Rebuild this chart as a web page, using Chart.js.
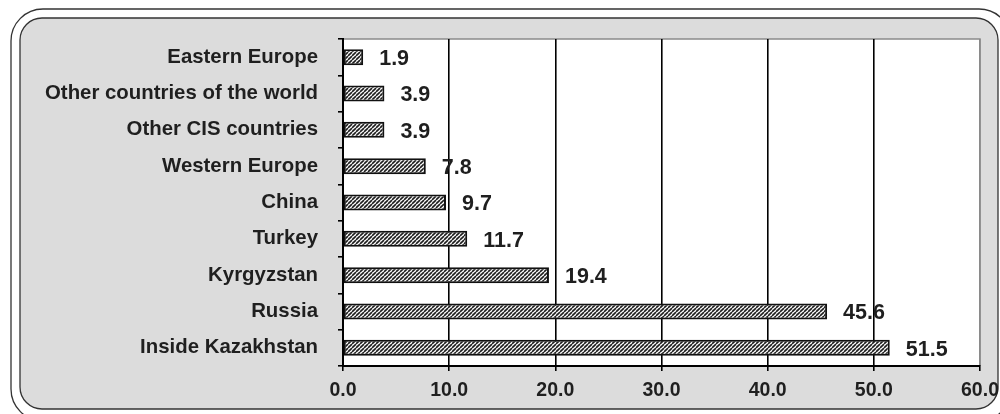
<!DOCTYPE html>
<html>
<head>
<meta charset="utf-8">
<script src="https://cdn.jsdelivr.net/npm/chart.js@4"></script>
<style>
  html, body { margin: 0; padding: 0; background: #ffffff; }
  canvas { display: block; }
</style>
</head>
<body>
<canvas id="chart" width="1000" height="414"></canvas>
<script>
// Destinations, top to bottom
const categories = [
  'Eastern Europe',
  'Other countries of the world',
  'Other CIS countries',
  'Western Europe',
  'China',
  'Turkey',
  'Kyrgyzstan',
  'Russia',
  'Inside Kazakhstan'
];
// Share of respondents, %
const shares = [1.9, 3.9, 3.9, 7.8, 9.7, 11.7, 19.4, 45.6, 51.5];
// Value axis range
const axisMin = 0;
const axisMax = 60;
const axisStep = 10;

const FONT = '"Liberation Sans", Arial, Helvetica, sans-serif';
const INK = '#1f1f1f';

// Diagonal hatch used to fill the bars
function makeHatch() {
  const s = 4;
  const tile = document.createElement('canvas');
  tile.width = s; tile.height = s;
  const c = tile.getContext('2d');
  c.fillStyle = '#ffffff';
  c.fillRect(0, 0, s, s);
  c.strokeStyle = '#1e1e1e';
  c.lineWidth = 1.6;
  for (const k of [-s, 0, s]) {
    c.beginPath();
    c.moveTo(k, s);
    c.lineTo(k + s, 0);
    c.stroke();
  }
  return c.createPattern(tile, 'repeat');
}

function roundRectPath(ctx, x, y, w, h, r) {
  ctx.beginPath();
  ctx.moveTo(x + r, y);
  ctx.lineTo(x + w - r, y);
  ctx.arcTo(x + w, y, x + w, y + r, r);
  ctx.lineTo(x + w, y + h - r);
  ctx.arcTo(x + w, y + h, x + w - r, y + h, r);
  ctx.lineTo(x + r, y + h);
  ctx.arcTo(x, y + h, x, y + h - r, r);
  ctx.lineTo(x, y + r);
  ctx.arcTo(x, y, x + r, y, r);
  ctx.closePath();
}

// Double rounded frame, grey panel and white plot area
const framePlugin = {
  id: 'frame',
  beforeDraw(chart) {
    const ctx = chart.ctx;
    const a = chart.chartArea;
    ctx.save();
    ctx.fillStyle = '#ffffff';
    ctx.fillRect(0, 0, chart.width, chart.height);
    ctx.strokeStyle = '#333333';
    ctx.lineWidth = 1.3;
    roundRectPath(ctx, 11, 9, 1000, 412, 32);
    ctx.stroke();
    roundRectPath(ctx, 20, 18, 978, 391, 22);
    ctx.fillStyle = '#dcdcdc';
    ctx.fill();
    ctx.stroke();
    ctx.fillStyle = '#ffffff';
    ctx.fillRect(a.left, a.top, a.right - a.left, a.bottom - a.top);
    ctx.strokeStyle = '#8a8a8a';
    ctx.lineWidth = 1.5;
    ctx.beginPath();
    ctx.moveTo(a.left, a.top);
    ctx.lineTo(a.right, a.top);
    ctx.lineTo(a.right, a.bottom);
    ctx.stroke();
    ctx.restore();
  }
};

// Value written to the right of each bar
const valueLabels = {
  id: 'valueLabels',
  afterDatasetsDraw(chart) {
    const ctx = chart.ctx;
    const meta = chart.getDatasetMeta(0);
    ctx.save();
    ctx.font = 'bold 21.5px ' + FONT;
    ctx.fillStyle = INK;
    ctx.textAlign = 'left';
    ctx.textBaseline = 'middle';
    meta.data.forEach((bar, i) => {
      ctx.fillText(shares[i].toFixed(1), bar.x + 16, bar.y + 2);
    });
    ctx.restore();
  }
};

new Chart(document.getElementById('chart'), {
  type: 'bar',
  data: {
    labels: categories,
    datasets: [{
      data: shares,
      backgroundColor: makeHatch(),
      borderColor: '#111111',
      borderWidth: 2,
      borderSkipped: false,
      categoryPercentage: 1.0,
      barPercentage: 0.44
    }]
  },
  options: {
    indexAxis: 'y',
    responsive: false,
    animation: false,
    devicePixelRatio: 1,
    layout: { padding: { top: 39, right: 20, bottom: 0, left: 0 } },
    plugins: {
      legend: { display: false },
      tooltip: { enabled: false }
    },
    scales: {
      x: {
        min: axisMin,
        max: axisMax,
        afterFit(scale) {
          scale.height = 48;
          scale.paddingLeft = 0;
          scale.paddingRight = 0;
        },
        ticks: {
          stepSize: axisStep,
          padding: 8,
          color: INK,
          font: { family: FONT, size: 19.5, weight: 'bold' },
          callback: (v) => Number(v).toFixed(1)
        },
        grid: {
          drawOnChartArea: true,
          color: (ctx) => (ctx.tick && ctx.tick.value === axisMax) ? '#8a8a8a' : '#000000',
          lineWidth: 1.6,
          tickColor: '#000000',
          tickLength: 5
        },
        border: { display: true, color: '#000000', width: 2 }
      },
      y: {
        afterFit(scale) {
          scale.width = 343;
          scale.paddingTop = 0;
          scale.paddingBottom = 0;
        },
        ticks: {
          padding: 20,
          color: INK,
          font: { family: FONT, size: 20.4, weight: 'bold' }
        },
        grid: {
          drawOnChartArea: false,
          offset: true,
          tickColor: '#000000',
          tickLength: 5,
          lineWidth: 1.6
        },
        border: { display: true, color: '#000000', width: 2 }
      }
    }
  },
  plugins: [framePlugin, valueLabels]
});
</script>
</body>
</html>
